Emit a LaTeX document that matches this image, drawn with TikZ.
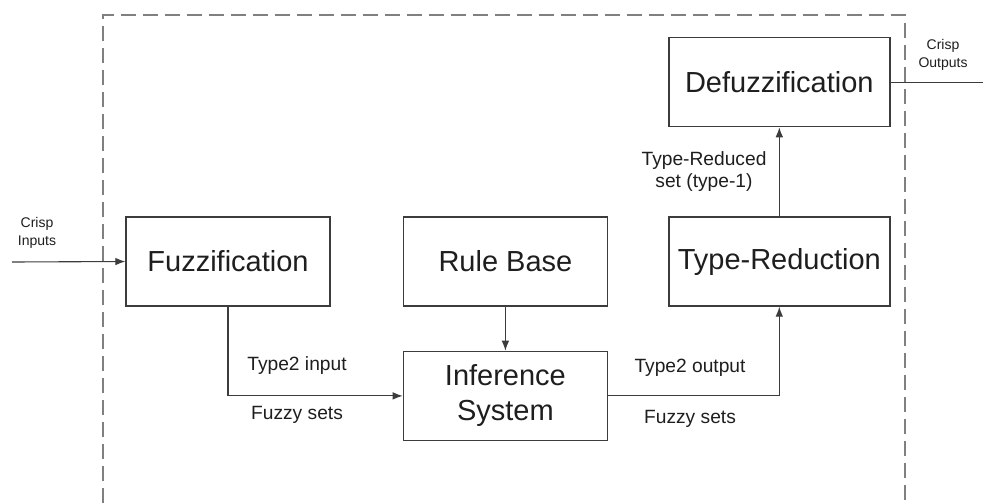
\documentclass[tikz,border=0pt]{standalone}
\usepackage{fontspec}
\setmainfont{Liberation Sans}
\usetikzlibrary{positioning,arrows.meta}
\definecolor{linegray}{RGB}{60,60,60}
\definecolor{textgray}{RGB}{30,30,30}

\begin{document}
\begin{tikzpicture}[
        x=0.5pt, y=-0.5pt,
        block/.style={rectangle, draw=linegray, line width=0.7pt, minimum width=102pt, minimum height=44.5pt,
            text=textgray, align=center, font=\fontsize{14.5}{17.5}\selectfont},
        wideblock/.style={block, minimum width=110.5pt},
        arrow/.style={draw=linegray, line width=0.55pt, ->, >={Latex[length=5pt,width=3.8pt]}},
        wire/.style={draw=linegray, line width=0.55pt},
        label/.style={text=textgray, align=center, font=\fontsize{9.6}{11}\selectfont},
        io/.style={text=textgray, align=center, font=\fontsize{7}{9}\selectfont},
        frame/.style={draw=gray, line width=0.75pt, dash pattern=on 7.5pt off 3.5pt}
    ]
    \useasboundingbox (0,0) rectangle (983,503);

    % system boundary (open at the bottom)
    \draw[frame] (103,503) |- (905,15) -- (905,503);

    % blocks
    \node (fuzz) [block] at (228,261.5) {Fuzzification};
    \node (rules) [block, right=36pt of fuzz] {Rule Base};
    \node (infer) [block, below=22pt of rules] {Inference\\System};
    \node (reduce) [wideblock, right=30pt of rules] {Type-Reduction};
    \node (defuzz) [wideblock, above=44.5pt of reduce] {Defuzzification};

    % free ends of the crisp signals
    \coordinate (in) at (12,262);
    \coordinate (out) at (983,83.5);

    % connections
    \draw[arrow] (in) -- (fuzz.west);
    \draw[arrow] (fuzz.south) |- (infer.west);
    \draw[arrow] (rules.south) -- (infer.north);
    \draw[arrow] (infer.east) -| (reduce.south);
    \draw[arrow] (reduce.north) -- (defuzz.south);
    \draw[wire] (defuzz.east) -- (defuzz.east -| out);

    % signal labels
    \node (inlbl) [io] at (37,233) {Crisp\\Inputs};
    \node (outlbl) [io] at (943,55) {Crisp\\Outputs};
    \node (t2in) [label] at (297,366) {Type2 input};
    \node (fsin) [label] at (297,415) {Fuzzy sets};
    \node (t2out) [label] at (690,368) {Type2 output};
    \node (fsout) [label] at (690,419) {Fuzzy sets};
    \node (t1set) [label] at (704,172) {Type-Reduced\\set (type-1)};

\end{tikzpicture}
\end{document}
